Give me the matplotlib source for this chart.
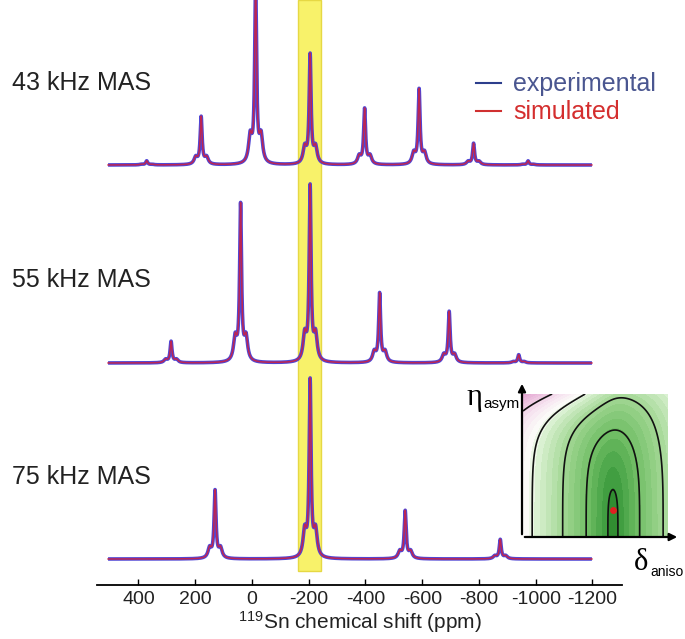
import numpy as np
import matplotlib
matplotlib.use("Agg")
import matplotlib.pyplot as plt
from matplotlib.colors import LinearSegmentedColormap
from matplotlib.patches import FancyArrowPatch

plt.rcParams["font.family"] = ["Liberation Sans", "DejaVu Sans"]
plt.rcParams["mathtext.fontset"] = "custom"
plt.rcParams["mathtext.rm"] = "Liberation Sans"
plt.rcParams["axes.unicode_minus"] = False

# x axis (ppm)
ppm_ticks = [400, 200, 0, -200, -400, -600, -800, -1000, -1200]
ppm_span = (507, -1198)
highlight = (-164, -245)

# spinning sidebands: position (ppm) and height
labels = ["43 kHz MAS", "55 kHz MAS", "75 kHz MAS"]
peaks_43 = [371, 179, -13, -205, -397, -589, -781, -973]
heights_43 = [4, 47, 175, 108, 55, 74, 21, 4]
peaks_55 = [285, 40, -205, -450, -695, -940]
heights_55 = [21, 155, 173, 68, 50, 8]
peaks_75 = [130, -205, -540, -875]
heights_75 = [67, 175, 47, 19]

# inset chi^2 map (normalised delta_aniso / eta_asym)
best_fit = (0.62, 0.19)
chi_levels = [0.0012, 0.034, 0.12, 0.31, 0.62]

BLUE = "#5046d4"
RED = "#d0203c"


def lineshape(ppm, centers, heights, hw=4.0, side=19.0, side_frac=0.15, side_hw=7.0):
    y = np.zeros_like(ppm)
    for c, h in zip(centers, heights):
        y += h * hw**2 / ((ppm - c) ** 2 + hw**2)
        for s in (-side, side):
            y += h * side_frac * side_hw**2 / ((ppm - c - s) ** 2 + side_hw**2)
    return y


W, H = 685, 639
fig = plt.figure(figsize=(W / 100, H / 100), dpi=100)
ax = fig.add_axes([97 / W, 54 / H, 525 / W, 585 / H])
ax.set_xlim(546, -1304)
ax.set_ylim(0, 585)

ax.axvspan(highlight[0], highlight[1], ymin=14 / 585, ymax=1,
           facecolor="#f8f26a", edgecolor="#e6d844", lw=1, zorder=0)

ppm = np.linspace(ppm_span[0], ppm_span[1], 5000)
baselines = [420, 222, 26]
spectra = [(peaks_43, heights_43), (peaks_55, heights_55), (peaks_75, heights_75)]
for base, (pk, ht) in zip(baselines, spectra):
    y = base + lineshape(ppm, pk, ht)
    ax.plot(ppm, y, color=BLUE, lw=2.6, solid_capstyle="butt", zorder=2)
    ax.plot(ppm, y, color=RED, lw=1.1, alpha=0.85, zorder=3)

for lab, yc in zip(labels, [83, 280, 477]):
    fig.text(12 / W, 1 - yc / H, lab, fontsize=18, va="center", ha="left", color="#222222")

for s in ["left", "right", "top"]:
    ax.spines[s].set_visible(False)
ax.spines["bottom"].set_linewidth(1.3)
ax.set_yticks([])
ax.set_xticks(ppm_ticks)
ax.tick_params(axis="x", direction="in", length=4, width=1, pad=4, labelsize=14,
               labelcolor="#222222")
ax.set_xlabel(r"$\mathregular{^{119}}$Sn chemical shift (ppm)", fontsize=15,
              labelpad=1, color="#222222")

# legend
h1, = ax.plot([], [], color="#2c3e8c", lw=1.5)
h2, = ax.plot([], [], color="#d03030", lw=1.5)
leg = ax.legend([h1, h2], ["experimental", "simulated"], loc="upper left",
                bbox_to_anchor=(463 / W, 1 - 60 / H), bbox_transform=fig.transFigure,
                frameon=False, fontsize=18, handlelength=1.0, handletextpad=0.5,
                labelspacing=0.15, borderpad=0)
leg.get_texts()[0].set_color("#4a5690")
leg.get_texts()[1].set_color("#d42e2e")

# inset: chi^2 surface
axi = fig.add_axes([523 / W, (H - 537) / H, 145 / W, 143 / H])
u, v = np.meshgrid(np.linspace(0, 1, 300), np.linspace(0, 1, 300))
du = u - best_fit[0]
left = 0.04 * np.log1p(np.exp(-du / 0.04))
chi = du**2 + 0.1 * v**4 + 0.03 * v**12 + 0.75 * left * v**8
cmap = LinearSegmentedColormap.from_list("chi", [
    (0.0, "#2a862a"), (0.06, "#43a043"), (0.18, "#72bf66"), (0.35, "#a3d795"),
    (0.52, "#d8f0cf"), (0.6, "#fbfbf8"), (0.72, "#f6e4f0"), (1.0, "#e3a2d0")])
axi.contourf(u, v, np.sqrt(chi), levels=np.linspace(0, 1.05, 28), cmap=cmap,
             vmin=0, vmax=1)
axi.contour(u, v, chi, levels=chi_levels, colors="#111111", linewidths=1.2)
axi.plot(*best_fit, "o", color="#e02020", ms=5, mec="none")
axi.set_xlim(0, 1)
axi.set_ylim(0, 1)
axi.axis("off")

x0, y0 = 522 / W, (H - 537) / H
fig.add_artist(FancyArrowPatch((x0, y0), (x0, (H - 381) / H), transform=fig.transFigure,
                               arrowstyle="-|>", mutation_scale=11, lw=1.6, color="black"))
fig.add_artist(FancyArrowPatch((x0, y0), (680 / W, y0), transform=fig.transFigure,
                               arrowstyle="-|>", mutation_scale=11, lw=1.6, color="black"))

fig.text(466 / W, 1 - 398 / H, "η", family="Liberation Serif", fontsize=22,
         va="center", ha="left")
fig.text(483 / W, 1 - 404 / H, "asym", fontsize=11, va="center", ha="left")
fig.text(634 / W, 1 - 562 / H, "δ", family="Liberation Serif", fontsize=22,
         va="center", ha="left")
fig.text(650 / W, 1 - 572 / H, "aniso", fontsize=10, va="center", ha="left")

fig.savefig("out.png", dpi=100)
